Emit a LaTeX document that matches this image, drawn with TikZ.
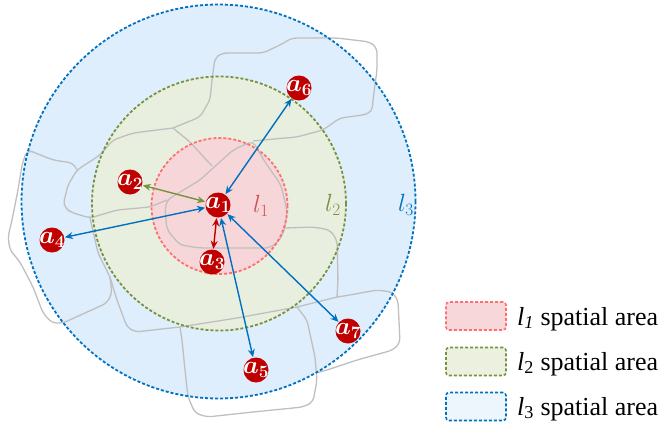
\documentclass[tikz,border=0pt]{standalone}
\usepackage{fontspec}
\setmainfont{Liberation Serif}
\newfontfamily\legfont{Liberation Serif}
\usetikzlibrary{arrows.meta}
\definecolor{bluefill}{HTML}{DEEEFC}
\definecolor{greenfill}{HTML}{E9EFDE}
\definecolor{pinkfill}{HTML}{F7D6DA}
\definecolor{blueline}{HTML}{0070C0}
\definecolor{greenline}{HTML}{77933C}
\definecolor{pinkline}{HTML}{FF6F6F}
\definecolor{nodered}{HTML}{C00000}
\definecolor{roadcol}{HTML}{BFBFBF}
\definecolor{lonecol}{HTML}{C85550}
\definecolor{legblue}{HTML}{EEF6FD}
\definecolor{leggreen}{HTML}{EBF1DE}
\definecolor{legpink}{HTML}{F8D7DA}
\tikzset{
  agent/.style={circle, fill=nodered, minimum size=25pt, inner sep=0pt},
  alab/.style={text=white, inner sep=0pt, font=\fontsize{25}{25}\selectfont\boldmath},
  biarrow/.style={line width=1.4pt, {Stealth[length=8pt,width=7pt]}-{Stealth[length=8pt,width=7pt]}, shorten <=0.5pt, shorten >=0.5pt},
  roadst/.style={draw=roadcol, line width=1.3pt, rounded corners=5pt},
  ringline/.style={line width=1.8pt, dash pattern=on 3pt off 2pt},
  lvl/.style={font=\fontsize{24}{24}\selectfont, inner sep=0pt},
  legbox/.style={minimum width=60pt, minimum height=28pt, rounded corners=3pt, line width=1.6pt, dash pattern=on 3pt off 2pt},
  legtext/.style={font=\legfont\fontsize{26}{26}\selectfont, inner sep=0pt, anchor=base west}
}
\begin{document}
\begin{tikzpicture}[x=1pt, y=-1pt]
\useasboundingbox (0,0) rectangle (662,426);
% area fills
\fill[bluefill] (218.5,201.5) circle[radius=197pt];
\fill[greenfill] (219,203.5) circle[radius=127pt];
\fill[pinkfill] (219.5,206) circle[radius=68pt];
% road network
\draw[roadst] (173,128) -- (200,117) -- (210,100) -- (212,80) -- (215,58) -- (222,53) -- (263,53) -- (280,45) -- (292,38) -- (337,38) -- (370,42) -- (377,48) -- (377,70) -- (373,100) -- (372,112) -- (363,115) -- (340,118) -- (323,130) -- (297,137) -- (263,140) -- (253,141);
\draw[roadst] (253,141) -- (258,150) -- (265,162) -- (281,185) -- (287,210) -- (285,228) -- (280,240) -- (270,248) -- (200,248) -- (180,245) -- (167,230) -- (165,210) -- (167,200) -- (200,180) -- (233,150) -- cycle;
\draw[roadst] (173,128) -- (190,142) -- (212,166);
\draw[roadst] (77,170) -- (73,163) -- (53,160) -- (33,152) -- (27,150) -- (22,165) -- (18,190) -- (12,220) -- (8,237) -- (10,250) -- (20,262) -- (33,287) -- (43,313) -- (52,323) -- (63,323) -- (107,303) -- (112,293) -- (110,277);
\draw[roadst] (173,128) -- (133,133) -- (113,140) -- (100,155) -- (77,170) -- (68,185) -- (63,205) -- (70,212) -- (90,218) -- (117,210) -- (150,207) -- (167,200);
\draw[roadst] (90,218) -- (95,240) -- (98,253) -- (110,277) -- (117,300) -- (127,327) -- (135,332) -- (180,327) -- (237,318) -- (297,307) -- (317,302) -- (337,297) -- (350,295) -- (377,290) -- (392,292) -- (398,300) -- (400,343) -- (393,350) -- (357,360) -- (327,370) -- (316,373);
\draw[roadst] (180,327) -- (182,340) -- (185,370) -- (188,397) -- (195,413) -- (207,417) -- (253,412) -- (303,407) -- (313,402) -- (317,380) -- (315,357) -- (307,320) -- (297,307);
\draw[roadst] (337,297) -- (338,280) -- (337,240) -- (330,230) -- (313,227) -- (285,228);
% ring borders
\draw[ringline, draw=blueline] (218.5,201.5) circle[radius=197pt];
\draw[ringline, draw=greenline] (219,203.5) circle[radius=127pt];
\draw[ringline, draw=pinkline] (219.5,206) circle[radius=68pt];
% level labels
\node[lvl, text=lonecol] (l1) at (261,206) {$l_1$};
\node[lvl, text=greenline] (l2) at (333,205) {$l_2$};
\node[lvl, text=blueline] (l3) at (406,205) {$l_3$};
% agents
\node[agent, label={[alab]center:$a_1$}] (a1) at (218,205) {};
\node[agent, label={[alab]center:$a_2$}] (a2) at (130,182) {};
\node[agent, label={[alab]center:$a_3$}] (a3) at (212,262) {};
\node[agent, label={[alab]center:$a_4$}] (a4) at (52,240) {};
\node[agent, label={[alab]center:$a_5$}] (a5) at (256,370) {};
\node[agent, label={[alab]center:$a_6$}] (a6) at (299,88) {};
\node[agent, label={[alab]center:$a_7$}] (a7) at (348,331) {};
% connectors
\draw[biarrow, draw=greenline, fill=greenline] (a1) -- (a2);
\draw[biarrow, draw=nodered, fill=nodered] (a1) -- (a3);
\draw[biarrow, draw=blueline, fill=blueline] (a1) -- (a4);
\draw[biarrow, draw=blueline, fill=blueline] (a1) -- (a5);
\draw[biarrow, draw=blueline, fill=blueline] (a1) -- (a6);
\draw[biarrow, draw=blueline, fill=blueline] (a1) -- (a7);
% legend
\node[legbox, draw=pinkline, fill=legpink] (k1) at (476,316) {};
\node[legbox, draw=greenline, fill=leggreen] (k2) at (476,361.5) {};
\node[legbox, draw=blueline, fill=legblue] (k3) at (476,406.5) {};
\node[legtext] (t1) at (517,325) {\textit{l}\textsubscript{\textit{1}} spatial area};
\node[legtext] (t2) at (517,370) {\textit{l}\textsubscript{2} spatial area};
\node[legtext] (t3) at (517,415) {\textit{l}\textsubscript{3} spatial area};
\end{tikzpicture}
\end{document}
